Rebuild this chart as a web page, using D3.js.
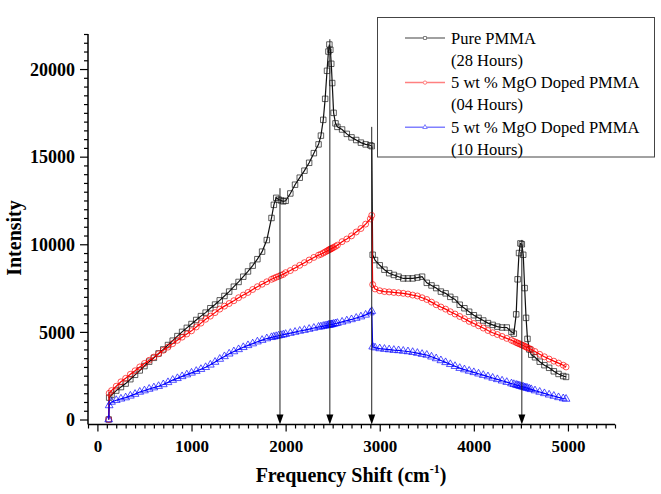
<!DOCTYPE html>
<html><head><meta charset="utf-8">
<script src="https://cdn.jsdelivr.net/npm/d3@7"></script>
<style>body{margin:0;background:#fff}svg{display:block}</style>
</head><body><svg id="c" width="661" height="494"></svg>
<script>
// ---- data ----
const shift = [120,125,
 150,200,250,300,350,400,450,500,550,600,650,700,750,800,850,900,950,1000,1050,1100,1150,1200,1250,1300,1350,1400,1450,1500,1550,1600,1650,1700,1750,1800,1850,
 1875,1900,1925,1950,1975,2000,
 2050,2100,2150,2200,2250,2300,2350,
 2375,2400,2420,2440,2455,2465,2475,2485,2495,2510,2530,2550,
 2600,2650,2700,2750,2800,2850,2900,
 2915,2925,2950,
 3000,3050,3100,3150,3200,3250,3300,3350,3400,3450,3500,3550,3600,3650,3700,3750,3800,3850,3900,3950,4000,4050,4100,4150,4200,4250,4300,4350,4400,
 4425,4450,4465,4480,4495,4510,4525,4540,4555,4570,4590,4610,
 4650,4700,4750,4800,4850,4900,4950,
 4980];
const purePMMA28h = [0,1250,
 1400,1650,1850,2050,2300,2550,2800,3050,3300,3520,3770,4000,4250,4500,4760,5000,5230,5450,5680,5900,6100,6350,6560,6800,7050,7300,7580,7850,8150,8450,8780,9150,9580,10240,11500,
 12250,12650,12550,12500,12450,12480,
 12900,13400,13800,14200,14650,15200,15700,
 16200,17100,18300,19900,21000,21400,21100,20300,19200,17500,16900,16700,
 16550,16300,16100,15950,15800,15700,15650,
 15600,9400,9100,
 8800,8550,8350,8250,8150,8050,8050,8050,8100,8150,7800,7650,7500,7300,7200,7000,6850,6550,6350,6150,5950,5800,5650,5500,5400,5300,5250,5250,5000,
 4900,6000,8000,9500,10050,10000,9400,7500,5800,4600,4000,3700,
 3550,3300,3100,2950,2750,2600,2480,
 2430];
const mgo04h = [0,1500,
 1650,1900,2150,2350,2580,2780,3000,3200,3380,3560,3750,3950,4130,4330,4520,4700,4880,5060,5280,5500,5720,5900,6100,6300,6470,6620,6780,6950,7100,7250,7420,7580,7720,7860,8000,
 8060,8120,8170,8230,8280,8380,
 8500,8650,8800,8950,9100,9250,9380,
 9430,9500,9560,9620,9660,9700,9720,9750,9780,9820,9880,9950,
 10150,10300,10480,10700,10900,11150,11450,
 11650,7700,7450,
 7350,7300,7280,7250,7230,7200,7160,7100,7050,6950,6850,6700,6550,6420,6300,6150,6020,5880,5750,5600,5480,5350,5220,5080,4950,4850,4740,4630,4520,
 4460,4400,4360,4330,4290,4250,4220,4180,4140,4100,4050,4000,
 3880,3720,3580,3450,3330,3220,3100,
 3000];
const mgo10h = [0,800,
 1000,1100,1180,1250,1350,1450,1570,1650,1740,1820,1900,2000,2120,2250,2350,2460,2560,2660,2760,2870,2980,3120,3280,3450,3600,3750,3880,4000,4120,4230,4330,4440,4530,4620,4690,
 4720,4750,4780,4810,4840,4870,
 4930,4990,5050,5100,5160,5220,5280,
 5300,5330,5350,5370,5390,5400,5410,5420,5430,5450,5480,5500,
 5570,5640,5710,5790,5870,5970,6100,
 6180,4150,4100,
 4050,4020,3990,3960,3940,3910,3880,3840,3790,3730,3680,3580,3480,3370,3260,3150,3040,2930,2850,2770,2690,2610,2530,2450,2370,2290,2210,2130,2050,
 2010,1970,1950,1930,1900,1880,1860,1830,1810,1790,1750,1720,
 1650,1570,1490,1410,1340,1260,1200,
 1170];
const xTickValues = [0,1000,2000,3000,4000,5000];
const yTickValues = [0,5000,10000,15000,20000];
const legendLines = [["Pure PMMA","(28 Hours)"],["5 wt % MgO Doped PMMA","(04 Hours)"],["5 wt % MgO Doped PMMA","(10 Hours)"]];
const arrowShift = [1940,2470,2915,4510];
const arrowTop = [13200,21700,16700,10250];

// ---- drawing ----
const svg = d3.select("#c");
const serif = "'Liberation Serif','Times New Roman',serif";
const x = d3.scaleLinear().domain([-100,5500]).range([88,615]);
const y = d3.scaleLinear().domain([-285,22000]).range([424.5,34]);
const axisY = 424.5, axisX = 88;

const series = [
  {vals: purePMMA28h, color:"#111", sym:d3.symbolSquare, size:30, lg:"#808080"},
  {vals: mgo04h, color:"#ff0000", sym:d3.symbolCircle, size:28, lg:"#ff8080"},
  {vals: mgo10h, color:"#0000ff", sym:d3.symbolTriangle, size:26, lg:"#8080ff"}
];

const line = d3.line().x((d,i)=>x(shift[i])).y(d=>y(d));
series.forEach(s=>{
  const g = svg.append("g");
  g.append("path").attr("d", line(s.vals)).attr("fill","none").attr("stroke",s.color).attr("stroke-width",1.2);
  g.selectAll("path.m").data(s.vals).enter().append("path").attr("class","m")
    .attr("d", d3.symbol().type(s.sym).size(s.size))
    .attr("transform",(d,i)=>`translate(${x(shift[i])},${y(d)})`)
    .attr("fill","none").attr("stroke",s.color).attr("stroke-width",0.8).attr("stroke-opacity",0.85);
});

// arrows
arrowShift.forEach((s,i)=>{
  const ax = x(s);
  svg.append("line").attr("x1",ax).attr("x2",ax).attr("y1",y(arrowTop[i])).attr("y2",axisY-8)
    .attr("stroke","#222").attr("stroke-width",1);
  svg.append("path").attr("d",`M${ax-3.5},${axisY-10}L${ax+3.5},${axisY-10}L${ax},${axisY}Z`).attr("fill","#000");
});

// x axis
const minorX = d3.range(-100,5501,100).filter(v=>v%1000!==0);
const gx = svg.append("g").attr("transform",`translate(0,${axisY})`);
gx.call(d3.axisBottom(x).tickValues(minorX).tickSize(4).tickSizeOuter(0).tickFormat(""));
gx.call(g=>g.select(".domain").remove());
const gx2 = svg.append("g").attr("transform",`translate(0,${axisY})`)
  .call(d3.axisBottom(x).tickValues(xTickValues).tickSize(7).tickSizeOuter(0).tickFormat(d3.format("d")));
gx2.select(".domain").remove();
gx2.selectAll("text").attr("y",27.5).attr("dy",0).attr("font-family",serif).attr("font-weight","bold").attr("font-size","17px").attr("fill","#000");
svg.selectAll(".tick line").attr("stroke","#000").attr("stroke-width",1.2);

// y axis
const minorY = d3.range(500,22001,500).filter(v=>v%5000!==0);
const gy = svg.append("g").attr("transform",`translate(${axisX},0)`);
gy.call(d3.axisLeft(y).tickValues(minorY).tickSize(4).tickSizeOuter(0).tickFormat(""));
gy.select(".domain").remove();
const gy2 = svg.append("g").attr("transform",`translate(${axisX},0)`)
  .call(d3.axisLeft(y).tickValues(yTickValues).tickSize(8).tickPadding(5).tickSizeOuter(0).tickFormat(d3.format("d")));
gy2.select(".domain").remove();
gy2.selectAll("text").attr("font-family",serif).attr("font-weight","bold").attr("font-size","18px").attr("fill","#000").attr("dy","0.34em");
svg.selectAll(".tick line").attr("stroke","#000").attr("stroke-width",1.2);

svg.append("line").attr("x1",axisX).attr("x2",615).attr("y1",axisY).attr("y2",axisY).attr("stroke","#000").attr("stroke-width",1.5);
svg.append("line").attr("x1",axisX).attr("x2",axisX).attr("y1",34).attr("y2",axisY).attr("stroke","#000").attr("stroke-width",1.5);

// titles
const xt = svg.append("text").attr("x",351).attr("y",482).attr("text-anchor","middle")
  .attr("font-family",serif).attr("font-weight","bold").attr("font-size","20px");
xt.append("tspan").text("Frequency Shift (cm");
xt.append("tspan").attr("dy",-9).attr("font-size","12px").text("-1");
xt.append("tspan").attr("dy",9).text(")");
svg.append("text").attr("transform","translate(21,238) rotate(-90)").attr("text-anchor","middle")
  .attr("font-family",serif).attr("font-weight","bold").attr("font-size","20px").text("Intensity");

// legend
const lg = svg.append("g");
lg.append("rect").attr("x",377.5).attr("y",17.5).attr("width",277).attr("height",139.5)
  .attr("fill","#fff").attr("stroke","#444").attr("stroke-width",1);
const base0 = 43.5, step = 22.3;
legendLines.forEach((lab,i)=>{
  const b1 = base0 + step*2*i, b2 = b1 + step;
  const ly = b1 - 5.5;
  lg.append("line").attr("x1",405).attr("x2",445).attr("y1",ly).attr("y2",ly).attr("stroke",series[i].lg).attr("stroke-width",1.5);
  lg.append("path").attr("d",d3.symbol().type(series[i].sym).size(9)).attr("transform",`translate(425,${ly})`)
    .attr("fill","#fff").attr("stroke",series[i].lg).attr("stroke-width",1);
  lg.append("text").attr("x",451).attr("y",b1).attr("font-family",serif).attr("font-size","16.5px").text(lab[0]);
  lg.append("text").attr("x",451).attr("y",b2).attr("font-family",serif).attr("font-size","16.5px").text(lab[1]);
});
</script>
</body></html>
